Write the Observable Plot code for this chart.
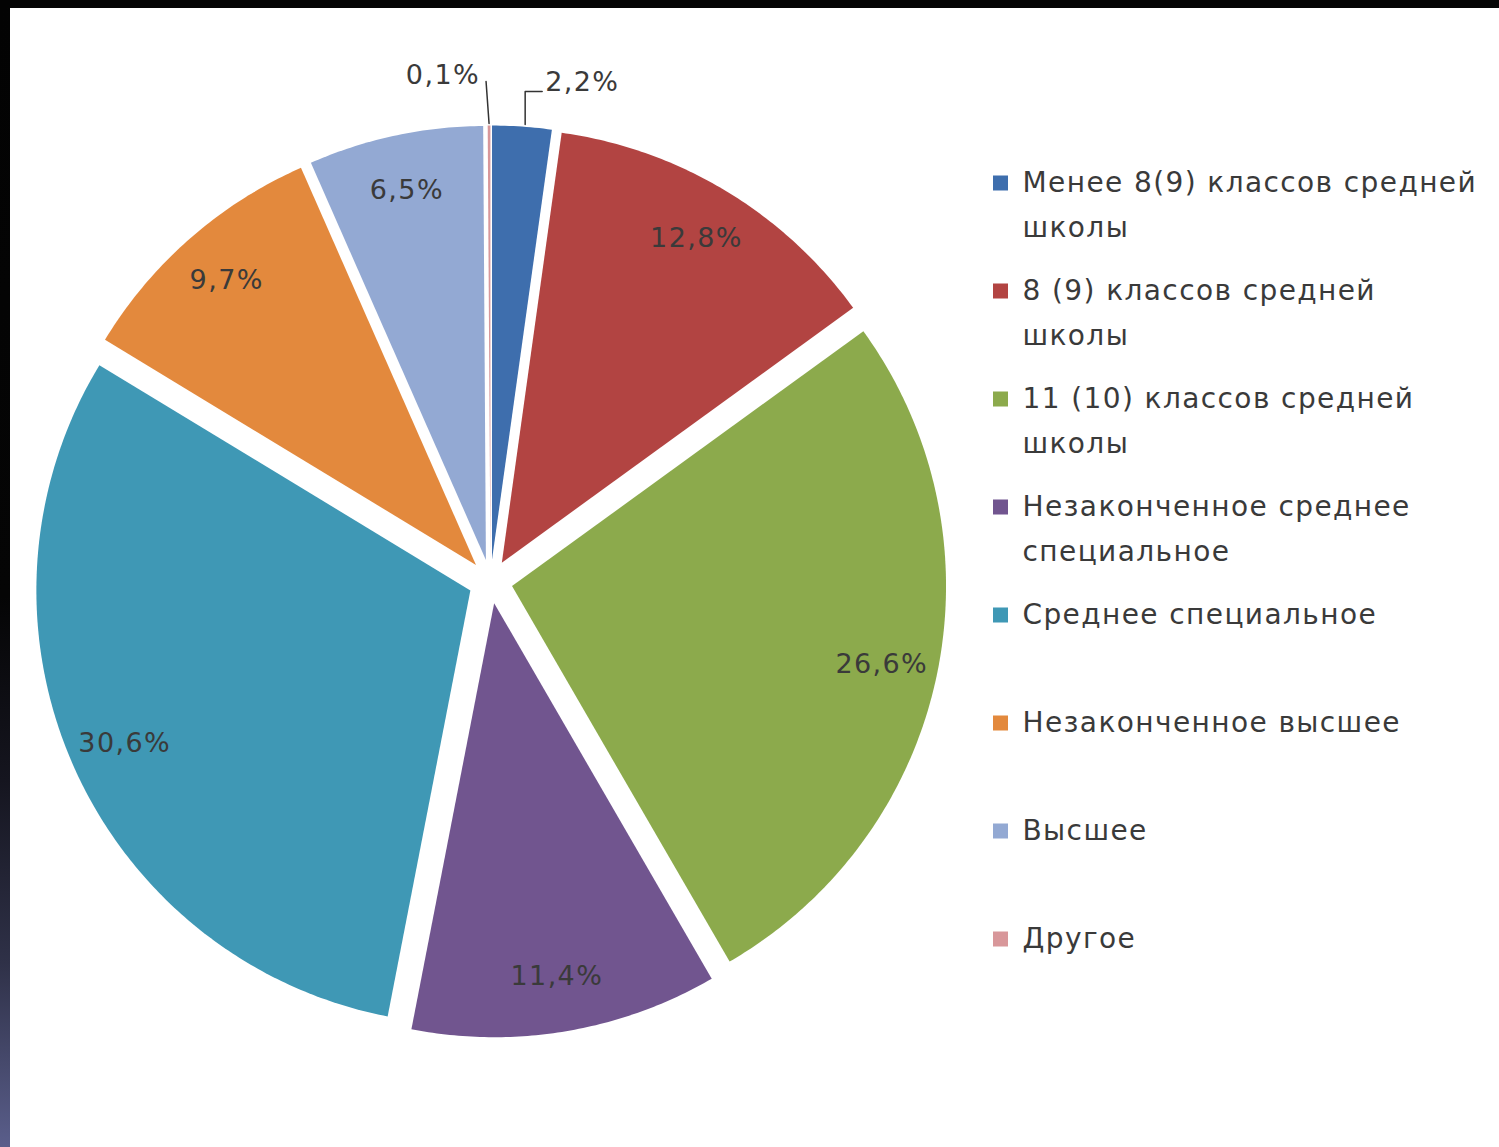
<!DOCTYPE html>
<html>
<head>
<meta charset="utf-8">
<script src="https://cdn.jsdelivr.net/npm/d3@7"></script>
<script src="https://cdn.jsdelivr.net/npm/@observablehq/plot@0.6"></script>
<style>
  html, body { margin: 0; padding: 0; background: #fff; }
  #wrap { position: relative; width: 1499px; height: 1147px; overflow: hidden; background: #fff; }
  #topbar { position: absolute; left: 0; top: 0; width: 1499px; height: 8px; background: #050505; z-index: 2; }
  #leftbar { position: absolute; left: 0; top: 0; width: 10px; height: 1147px; z-index: 2;
    background: linear-gradient(to bottom, #030303 0%, #050505 52%, #15151f 68%, #2f3148 84%, #5a5e8b 100%); }
  #chart { position: absolute; left: 0; top: 0; }
</style>
</head>
<body>
<div id="wrap">
  <div id="topbar"></div>
  <div id="leftbar"></div>
  <div id="chart"></div>
</div>
<script>
// ---- data ----
const categories = [
  "Менее 8(9) классов средней школы",
  "8 (9) классов средней школы",
  "11 (10) классов средней школы",
  "Незаконченное среднее специальное",
  "Среднее специальное",
  "Незаконченное высшее",
  "Высшее",
  "Другое"
];
const values = [2.2, 12.8, 26.6, 11.4, 30.6, 9.7, 6.5, 0.1];
const colors = ["#3E6EAD", "#B24442", "#8CAA4C", "#71558F", "#3F98B5", "#E3893D", "#93A9D3", "#D8979A"];

// ---- layout ----
const W = 1499, H = 1147;
const cx = 490, cy = 581, R = 434, explode = 22;
const labelR = 378;
const fmt = v => d3.format(".1f")(v).replace(".", ",") + "%";

const arcs = d3.pie().sort(null).value(d => d.value)(categories.map((c, i) => ({cat: c, value: values[i]})));

const pt = (a, r, ox = 0, oy = 0) => ({x: cx + ox + r * Math.sin(a), y: cy + oy - r * Math.cos(a)});

// wedge polygons
const wedgePts = [];
arcs.forEach(a => {
  const mid = (a.startAngle + a.endAngle) / 2;
  const ox = explode * Math.sin(mid), oy = -explode * Math.cos(mid);
  const n = Math.max(2, Math.ceil((a.endAngle - a.startAngle) / 0.01));
  wedgePts.push({cat: a.data.cat, ...pt(0, 0, ox, oy)});
  for (let k = 0; k <= n; k++) {
    const t = a.startAngle + (a.endAngle - a.startAngle) * k / n;
    wedgePts.push({cat: a.data.cat, ...pt(t, R, ox, oy)});
  }
  wedgePts.push({cat: a.data.cat, ...pt(0, 0, ox, oy)});
});

// labels
const inLabels = [], outRight = [], outLeft = [], leaders = [];
arcs.forEach((a, i) => {
  const mid = (a.startAngle + a.endAngle) / 2;
  const ox = explode * Math.sin(mid), oy = -explode * Math.cos(mid);
  if (a.data.value >= 3) {
    inLabels.push({text: fmt(a.data.value), ...pt(mid, labelR, ox, oy)});
  } else {
    const p0 = pt(mid, R + 2, ox, oy);
    const ly = cy - R - explode - 43;
    if (Math.sin(mid) > 0.02) {
      const elbow = {x: p0.x + 3, y: ly + 9};
      const end = {x: p0.x + 20, y: ly + 9};
      leaders.push({id: i, ...p0, x: p0.x + 3}, {id: i, ...elbow}, {id: i, ...end});
      outRight.push({text: fmt(a.data.value), x: end.x + 3, y: ly});
    } else {
      const end = {x: p0.x - 3, y: ly - 1};
      leaders.push({id: i, ...p0}, {id: i, ...end});
      outLeft.push({text: fmt(a.data.value), x: end.x - 6, y: ly - 7});
    }
  }
});

// legend
const legX = 993, legY0 = 183, legStep = 108, legSq = 15, lineGap = 45;
const legRects = [], legText = [];
categories.forEach((c, i) => {
  const y = legY0 + i * legStep;
  legRects.push({cat: c, x1: legX, x2: legX + legSq, y1: y - legSq / 2, y2: y + legSq / 2});
  let lines = [c];
  if (c.length > 22) {
    const k = c.lastIndexOf(" ");
    lines = [c.slice(0, k), c.slice(k + 1)];
  }
  lines.forEach((l, j) => legText.push({text: l, x: legX + 29, y: y + j * lineGap}));
});

const plot = Plot.plot({
  width: W, height: H,
  margin: 0,
  x: {domain: [0, W], range: [0, W], axis: null},
  y: {domain: [0, H], range: [0, H], axis: null},
  color: {domain: categories, range: colors},
  style: {fontFamily: "'DejaVu Sans', sans-serif", letterSpacing: "1.4px", background: "transparent"},
  marks: [
    Plot.line(wedgePts, {x: "x", y: "y", z: "cat", fill: "cat", stroke: "none", curve: "linear"}),
    Plot.text(inLabels, {x: "x", y: "y", text: "text", fontSize: 27, fill: "#3a3a3a"}),
    Plot.line(leaders, {x: "x", y: "y", z: "id", stroke: "#333", strokeWidth: 1.5}),
    Plot.text(outRight, {x: "x", y: "y", text: "text", textAnchor: "start", fontSize: 27, fill: "#3a3a3a"}),
    Plot.text(outLeft, {x: "x", y: "y", text: "text", textAnchor: "end", fontSize: 27, fill: "#3a3a3a"}),
    Plot.rect(legRects, {x1: "x1", x2: "x2", y1: "y1", y2: "y2", fill: "cat"}),
    Plot.text(legText, {x: "x", y: "y", text: "text", textAnchor: "start", fontSize: 28, fill: "#3a3a3a"})
  ]
});
document.getElementById("chart").appendChild(plot);
</script>
</body>
</html>
